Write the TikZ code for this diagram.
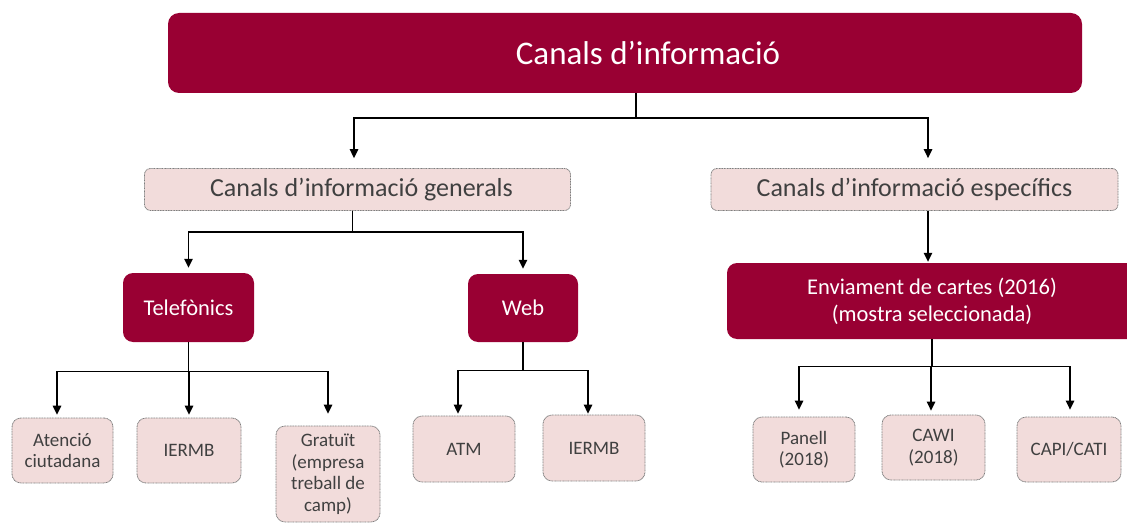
\documentclass[tikz,border=0pt]{standalone}
\usepackage{fontspec}
\setmainfont{Carlito}
\usetikzlibrary{arrows.meta}
\definecolor{maroon}{HTML}{990033}
\definecolor{pinkfill}{HTML}{F2DCDB}
\definecolor{pinkline}{HTML}{7F7F7F}
\definecolor{darktext}{HTML}{404040}
\tikzset{
  mbox/.style={fill=maroon, draw=none, text=white, rounded corners=11pt, inner sep=0pt, align=center},
  pbox/.style={fill=pinkfill, draw=pinkline, line width=0.8pt, dash pattern=on 1pt off 0.6pt, text=darktext, rounded corners=9pt, inner sep=0pt, align=center},
  conn/.style={draw=black, line width=1.4pt},
  arr/.style={conn, -{Triangle[length=9pt,width=8.5pt]}},
  bigf/.style={font=\fontsize{33}{40}\selectfont},
  midf/.style={font=\fontsize{26}{31}\selectfont},
  boxf/.style={font=\fontsize{22.5}{27}\selectfont},
  smallf/.style={font=\fontsize{19}{21.5}\selectfont}
}
\begin{document}
\begin{tikzpicture}[x=1pt,y=-1pt]
\useasboundingbox (0,0) rectangle (1127,524);
\clip (0,0) rectangle (1127,524);
% nodes
\node[mbox, bigf, minimum width=914pt, minimum height=80pt] (top) at (625,53) {\hspace*{46pt}Canals d’informació};
\node[pbox, midf, minimum width=426pt, minimum height=42pt, rounded corners=6pt] (gen) at (357.5,189.5) {\hspace*{8pt}Canals d’informació generals};
\node[pbox, midf, minimum width=407pt, minimum height=42pt, rounded corners=6pt] (esp) at (914.5,189.5) {Canals d’informació específics};
\node[mbox, boxf, minimum width=131pt, minimum height=69pt, rounded corners=10pt] (tel) at (188.5,307.5) {Telefònics};
\node[mbox, boxf, minimum width=110pt, minimum height=68pt, rounded corners=10pt] (web) at (523,308) {Web};
\node[mbox, boxf, minimum width=410pt, minimum height=76pt, rounded corners=10pt] (env) at (932,301) {Enviament de cartes (2016)\\(mostra seleccionada)};
\node[pbox, smallf, minimum width=101pt, minimum height=65pt] (atc) at (62.5,450.5) {Atenció\\ciutadana};
\node[pbox, smallf, minimum width=104pt, minimum height=65pt] (ie1) at (189,450.5) {IERMB};
\node[pbox, smallf, minimum width=104pt, minimum height=96pt] (gra) at (328,474) {Gratuït\\(empresa\\treball de\\camp)};
\node[pbox, smallf, minimum width=102pt, minimum height=66pt] (atm) at (464,449) {ATM};
\node[pbox, smallf, minimum width=102pt, minimum height=66pt] (ie2) at (594,448) {IERMB};
\node[pbox, smallf, minimum width=102pt, minimum height=65pt] (pan) at (804,449.5) {Panell\\(2018)};
\node[pbox, smallf, minimum width=103pt, minimum height=65pt] (caw) at (933.5,447.5) {CAWI\\(2018)};
\node[pbox, smallf, minimum width=104pt, minimum height=65pt] (cap) at (1069,449.5) {CAPI/CATI};
% connectors
\draw[arr, shorten >=10pt] ([xshift=11pt]top.south) -- ++(0,25) -| ([xshift=-3.5pt]gen.north);
\draw[arr, shorten >=10pt] ([xshift=11pt]top.south) -- ++(0,25) -| ([xshift=13.5pt]esp.north);
\draw[arr, shorten >=5pt] ([xshift=-5pt]gen.south) -- ++(0,21) -| (tel.north);
\draw[arr, shorten >=5pt] ([xshift=-5pt]gen.south) -- ++(0,21) -| (web.north);
\draw[arr, shorten >=1pt] ([xshift=13.5pt]esp.south) -- ([xshift=-4pt]env.north);
\draw[arr, shorten >=3pt] (tel.south) -- ++(0,29) -| ([xshift=-5.5pt]atc.north);
\draw[arr, shorten >=3pt] (tel.south) -- ++(0,29) -| (ie1.north);
\draw[arr, shorten >=12pt] (tel.south) -- ++(0,29) -| (gra.north);
\draw[arr, shorten >=2pt] (web.south) -- ++(0,28) -| ([xshift=-6pt]atm.north);
\draw[arr, shorten >=1pt] (web.south) -- ++(0,28) -| ([xshift=-6pt]ie2.north);
\draw[arr, shorten >=7pt] (env.south) -- ++(0,27) -| ([xshift=-5pt]pan.north);
\draw[arr, shorten >=4pt] (env.south) -- ++(0,27) -| ([xshift=-2.5pt]caw.north);
\draw[arr, shorten >=7pt] (env.south) -- ++(0,27) -| ([xshift=1pt]cap.north);
\end{tikzpicture}
\end{document}
